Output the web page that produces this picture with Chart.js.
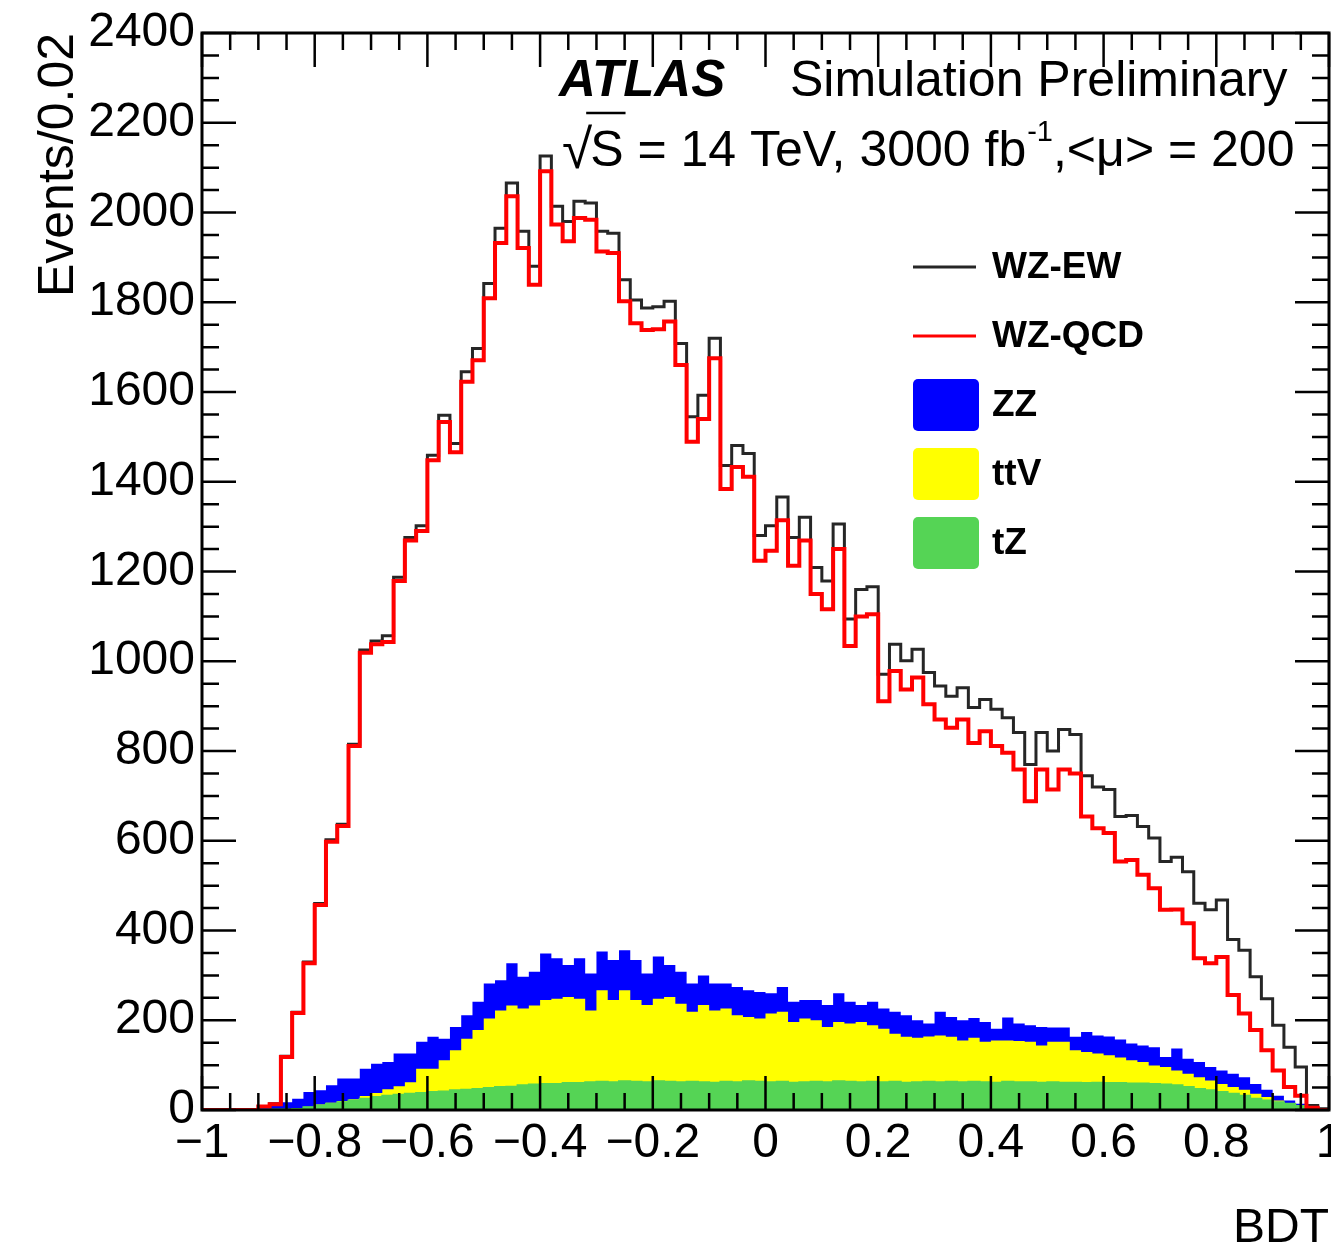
<!DOCTYPE html>
<html><head><meta charset="utf-8">
<script src="https://cdn.jsdelivr.net/npm/chart.js@4.4.1/dist/chart.umd.min.js"></script>
<style>
html,body{margin:0;padding:0;background:#fff;overflow:hidden;width:1331px;height:1253px;}
#wrap{position:absolute;left:0;top:0;width:1343px;height:1253px;}
</style></head><body>
<div id="wrap"><canvas id="c" width="1343" height="1253"></canvas></div>
<script>
// ---- binning ----
const xMin = -1, xMax = 1, binWidth = 0.02;
const yMin = 0, yMax = 2400;
const xMajorStep = 0.2, yMajorStep = 200;
const xMinorStep = 0.05, yMinorStep = 50;

// ---- series (events per bin, 100 bins from -1 to 1) ----
const wzEW = [
  0,0,0,0,0,8,14,120,218,330,
  460,602,637,815,1025,1045,1057,1187,1276,1302,
  1459,1548,1485,1645,1697,1842,1965,2066,1958,1880,
  2126,2014,1980,2025,2021,1958,1954,1850,1805,1787,
  1790,1802,1708,1545,1593,1720,1436,1481,1463,1280,
  1302,1366,1276,1321,1209,1179,1306,1094,1160,1166,
  971,1038,1001,1027,975,945,922,941,897,915,
  893,874,841,770,841,800,848,837,745,720,
  714,654,656,632,606,554,563,531,461,446,
  468,380,356,297,248,189,140,96,10,3
];
const wzQCD = [
  0,0,0,0,0,8,13,118,216,327,
  457,598,633,811,1019,1038,1043,1179,1269,1290,
  1448,1533,1466,1623,1671,1809,1932,2036,1921,1839,
  2092,1973,1936,1988,1984,1913,1910,1802,1753,1738,
  1740,1757,1660,1489,1540,1675,1384,1433,1411,1224,
  1246,1314,1213,1269,1150,1116,1250,1034,1100,1105,
  911,978,937,964,904,870,852,870,818,844,
  811,796,759,688,759,714,759,750,654,628,
  617,554,557,524,494,446,447,416,338,327,
  341,256,215,178,133,88,51,32,5,0
];
const tZ = [
  0,0,0,0,0,0,1,1,2,6,
  10,14,17,21,25,29,32,34,36,38,
  40,41,44,45,47,49,51,52,55,57,
  58,58,60,60,62,63,62,64,63,62,
  64,63,62,63,62,61,63,62,64,63,
  62,63,61,62,63,62,64,63,62,63,
  62,63,61,62,63,62,63,62,63,62,
  61,63,62,62,61,62,61,61,60,61,
  60,60,59,59,58,57,55,51,47,44,
  40,36,32,25,21,17,14,9,4,2
];
const ttV = [
  0,0,0,0,0,0,0,0,0,1,
  2,2,3,3,6,9,14,19,26,54,
  52,70,89,114,131,155,171,181,171,176,
  187,190,192,188,160,204,183,203,182,172,
  184,189,175,156,172,161,163,149,143,141,
  153,156,135,142,137,123,132,130,134,126,
  119,107,102,99,101,104,100,93,98,90,
  94,92,92,90,83,90,91,72,69,65,
  62,57,52,48,41,39,33,30,26,22,
  18,15,13,11,8,4,1,1,1,0
];
const ZZ = [
  0,0,0,0,0,4,9,16,23,33,
  32,39,50,46,61,65,61,73,64,60,
  71,48,52,52,63,78,67,94,71,75,
  104,90,71,90,82,86,89,89,89,70,
  94,71,71,63,66,60,56,63,60,59,
  45,55,45,41,45,49,64,48,38,52,
  45,49,48,39,29,53,44,45,44,44,
  26,51,39,37,41,32,32,30,45,40,
  42,40,37,37,41,22,49,33,34,30,
  30,30,28,22,16,11,6,4,1,0
];
const legendOrder = ['WZ-EW', 'WZ-QCD', 'ZZ', 'ttV', 'tZ'];

// ---- build stacked tops & histogram points ----
const stackTZ = tZ.slice();
const stackTTV = tZ.map((v, i) => v + ttV[i]);
const stackZZ = stackTTV.map((v, i) => v + ZZ[i]);
function histPoints(vals) {
  const pts = vals.map((v, i) => ({x: xMin + i * binWidth, y: v}));
  pts.push({x: xMax, y: vals[vals.length - 1]});
  return pts;
}

const FONT = '"Liberation Sans", Arial, Helvetica, sans-serif';
const GREEN = '#55d455', YELLOW = '#ffff00', BLUE = '#0000ff', RED = '#ff0000', DARK = '#262626';

const decor = {
  id: 'decor',
  afterDatasetsDraw(chart) {
    const {ctx, chartArea: a, scales: {x, y}} = chart;
    ctx.save();
    ctx.strokeStyle = '#000';
    ctx.lineWidth = 2.5;
    ctx.beginPath();
    const nx = Math.round((xMax - xMin) / xMinorStep);
    const perX = Math.round(xMajorStep / xMinorStep);
    for (let k = 0; k <= nx; k++) {
      const px = x.getPixelForValue(xMin + k * xMinorStep);
      const len = (k % perX === 0) ? 34 : 17;
      ctx.moveTo(px, a.bottom); ctx.lineTo(px, a.bottom - len);
      ctx.moveTo(px, a.top); ctx.lineTo(px, a.top + len);
    }
    const ny = Math.round((yMax - yMin) / yMinorStep);
    const perY = Math.round(yMajorStep / yMinorStep);
    for (let k = 0; k <= ny; k++) {
      const py = y.getPixelForValue(yMin + k * yMinorStep);
      const len = (k % perY === 0) ? 34 : 17;
      ctx.moveTo(a.left, py); ctx.lineTo(a.left + len, py);
      ctx.moveTo(a.right, py); ctx.lineTo(a.right - len, py);
    }
    ctx.stroke();
    ctx.lineWidth = 3;
    ctx.strokeRect(a.left, a.top, a.right - a.left, a.bottom - a.top);
    ctx.restore();
  },
  afterDraw(chart) {
    const ctx = chart.ctx;
    ctx.save();
    ctx.fillStyle = '#000';
    ctx.textBaseline = 'alphabetic';
    ctx.textAlign = 'left';
    // ATLAS label
    ctx.font = 'italic bold 51px ' + FONT;
    ctx.fillText('ATLAS', 559, 96);
    ctx.font = '50px ' + FONT;
    ctx.fillText('Simulation Preliminary', 790, 96);
    // second line
    let cx = 562;
    const base = 166;
    ctx.font = '55px ' + FONT;
    ctx.fillText('\u221A', cx, base + 2);
    cx += ctx.measureText('\u221A').width - 2;
    ctx.font = '50px ' + FONT;
    const wS = ctx.measureText('S').width;
    ctx.fillText('S', cx, base);
    ctx.lineWidth = 2.5;
    ctx.strokeStyle = '#000';
    ctx.beginPath(); ctx.moveTo(cx - 4, 113); ctx.lineTo(cx + wS + 2, 113); ctx.stroke();
    cx += wS;
    const t1 = ' = 14 TeV, 3000 fb';
    ctx.fillText(t1, cx, base);
    cx += ctx.measureText(t1).width;
    ctx.font = '29px ' + FONT;
    ctx.fillText('-1', cx + 1, base - 25);
    cx += ctx.measureText('-1').width + 1;
    ctx.font = '50px ' + FONT;
    ctx.fillText(',<\u03BC> = 200', cx, base);

    // legend
    const lx0 = 913, lx1 = 979, tx = 992, top0 = 267, step = 69;
    ctx.textBaseline = 'middle';
    ctx.font = 'bold 37px ' + FONT;
    legendOrder.forEach((name, i) => {
      const ds = chart.data.datasets.find(d => d.label === name);
      const yc = top0 + i * step;
      if (ds.fill) {
        ctx.fillStyle = ds.backgroundColor;
        ctx.beginPath();
        if (ctx.roundRect) ctx.roundRect(lx0, yc - 26, lx1 - lx0, 52, 5); else ctx.rect(lx0, yc - 26, lx1 - lx0, 52);
        ctx.fill();
      } else {
        ctx.strokeStyle = ds.borderColor;
        ctx.lineWidth = 3;
        ctx.beginPath(); ctx.moveTo(lx0, yc); ctx.lineTo(lx1 - 3, yc); ctx.stroke();
      }
      ctx.fillStyle = '#000';
      ctx.fillText(name, tx, yc + 1);
    });
    ctx.restore();
  }
};

const common = {stepped: 'before', pointRadius: 0, pointHoverRadius: 0, tension: 0};
new Chart(document.getElementById('c'), {
  type: 'line',
  data: {
    datasets: [
      Object.assign({label: 'WZ-QCD', data: histPoints(wzQCD), borderColor: RED, borderWidth: 4, fill: false, order: 0}, common),
      Object.assign({label: 'WZ-EW', data: histPoints(wzEW), borderColor: DARK, borderWidth: 3, fill: false, order: 1}, common),
      Object.assign({label: 'tZ', data: histPoints(stackTZ), borderColor: GREEN, backgroundColor: GREEN, borderWidth: 2, fill: 'origin', order: 2}, common),
      Object.assign({label: 'ttV', data: histPoints(stackTTV), borderColor: 'rgba(0,0,0,0)', backgroundColor: YELLOW, borderWidth: 1, fill: 'origin', order: 3}, common),
      Object.assign({label: 'ZZ', data: histPoints(stackZZ), borderColor: 'rgba(0,0,0,0)', backgroundColor: BLUE, borderWidth: 1, fill: 'origin', order: 4}, common)
    ]
  },
  options: {
    responsive: false,
    animation: false,
    events: [],
    layout: {padding: {top: 33, right: 14, bottom: 0, left: 0}},
    plugins: {legend: {display: false}, tooltip: {enabled: false}, title: {display: false}},
    scales: {
      x: {
        type: 'linear', min: xMin, max: xMax,
        grid: {display: false, drawTicks: false},
        border: {display: false},
        ticks: {
          stepSize: xMajorStep, autoSkip: false, maxRotation: 0, minRotation: 0, padding: 5,
          color: '#000', font: {family: FONT, size: 48},
          callback: (v) => { const r = Math.round(v * 10) / 10; if (r === 0) return '0'; return (r < 0 ? '\u2212' : '') + Math.abs(r); }
        },
        title: {display: true, text: 'BDT', align: 'end', color: '#000', font: {family: FONT, size: 48, lineHeight: 1}, padding: {top: 0, bottom: 0}},
        afterFit: (s) => { s.height = 143; s.paddingLeft = 0; s.paddingRight = 0; }
      },
      y: {
        min: yMin, max: yMax,
        grid: {display: false, drawTicks: false},
        border: {display: false},
        ticks: {stepSize: yMajorStep, padding: 7, color: '#000', font: {family: FONT, size: 48},
          callback: (v) => String(Math.round(v))},
        title: {display: true, text: 'Events/0.02', align: 'end', color: '#000', font: {family: FONT, size: 50, lineHeight: 1}, padding: {top: 34, bottom: 0}},
        afterFit: (s) => { s.width = 202; s.paddingTop = 0; s.paddingBottom = 0; }
      }
    }
  },
  plugins: [decor]
});
</script>
</body></html>
